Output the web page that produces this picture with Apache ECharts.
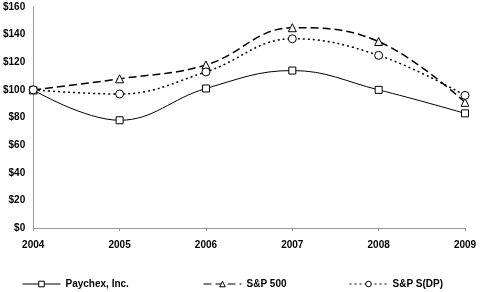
<!DOCTYPE html>
<html><head><meta charset="utf-8">
<script src="https://cdn.jsdelivr.net/npm/echarts@6/dist/echarts.min.js"></script>
<style>html,body{margin:0;padding:0;background:#fff}#c{width:485px;height:292px}</style>
</head><body><div id="c"></div>
<script>
const years = ['2004','2005','2006','2007','2008','2009'];
const paychex = [100, 78, 101, 114, 100, 83];
const sp500 = [100, 108, 118, 145, 135, 91];
const spsdp = [100, 97, 113, 137, 125, 96];
const yTicks = [0, 20, 40, 60, 80, 100, 120, 140, 160];

const font = {fontFamily: 'Liberation Sans, Arial, sans-serif', fontWeight: 'bold', fontSize: 10, color: '#000'};
const chart = echarts.init(document.getElementById('c'), null, {renderer: 'canvas'});
function legend(name, left) {
  return {data: [name], top: 274, left: left, itemWidth: 38, itemHeight: 7, itemGap: 4,
    lineStyle: {width: 1}, itemStyle: {borderWidth: 1},
    textStyle: Object.assign({}, font, {fontSize: 10}), selectedMode: false};
}
chart.setOption({
  animation: false,
  grid: {left: 32, right: 20, top: 7, bottom: 64},
  xAxis: {type: 'category', data: years, boundaryGap: false,
    axisLine: {lineStyle: {color: '#999', width: 1}},
    axisTick: {show: true, length: 3, lineStyle: {color: '#999'}},
    axisLabel: Object.assign({}, font, {margin: 12})},
  yAxis: {type: 'value', min: 0, max: 160, interval: 20,
    axisLine: {show: true, lineStyle: {color: '#999', width: 1}},
    axisTick: {show: false}, splitLine: {show: false},
    axisLabel: Object.assign({}, font, {margin: 8, formatter: v => '$' + v})},
  legend: [legend('Paychex, Inc.', 17), legend('S&P 500', 198), legend('S&P S(DP)', 344)],
  series: [
    {name: 'Paychex, Inc.', type: 'line', data: paychex, smooth: 0.4, symbol: 'rect', symbolSize: 7,
      lineStyle: {color: '#000', width: 1}, itemStyle: {color: '#fff', borderColor: '#000', borderWidth: 1}},
    {name: 'S&P 500', type: 'line', data: sp500, smooth: 0.4, symbol: 'triangle', symbolSize: 8,
      lineStyle: {color: '#000', width: 1.5, type: [8, 4]}, itemStyle: {color: '#fff', borderColor: '#000', borderWidth: 1}},
    {name: 'S&P S(DP)', type: 'line', data: spsdp, smooth: 0.4, symbol: 'circle', symbolSize: 8,
      lineStyle: {color: '#000', width: 1.5, type: [2, 3]}, itemStyle: {color: '#fff', borderColor: '#000', borderWidth: 1}}
  ]
});
</script></body></html>
